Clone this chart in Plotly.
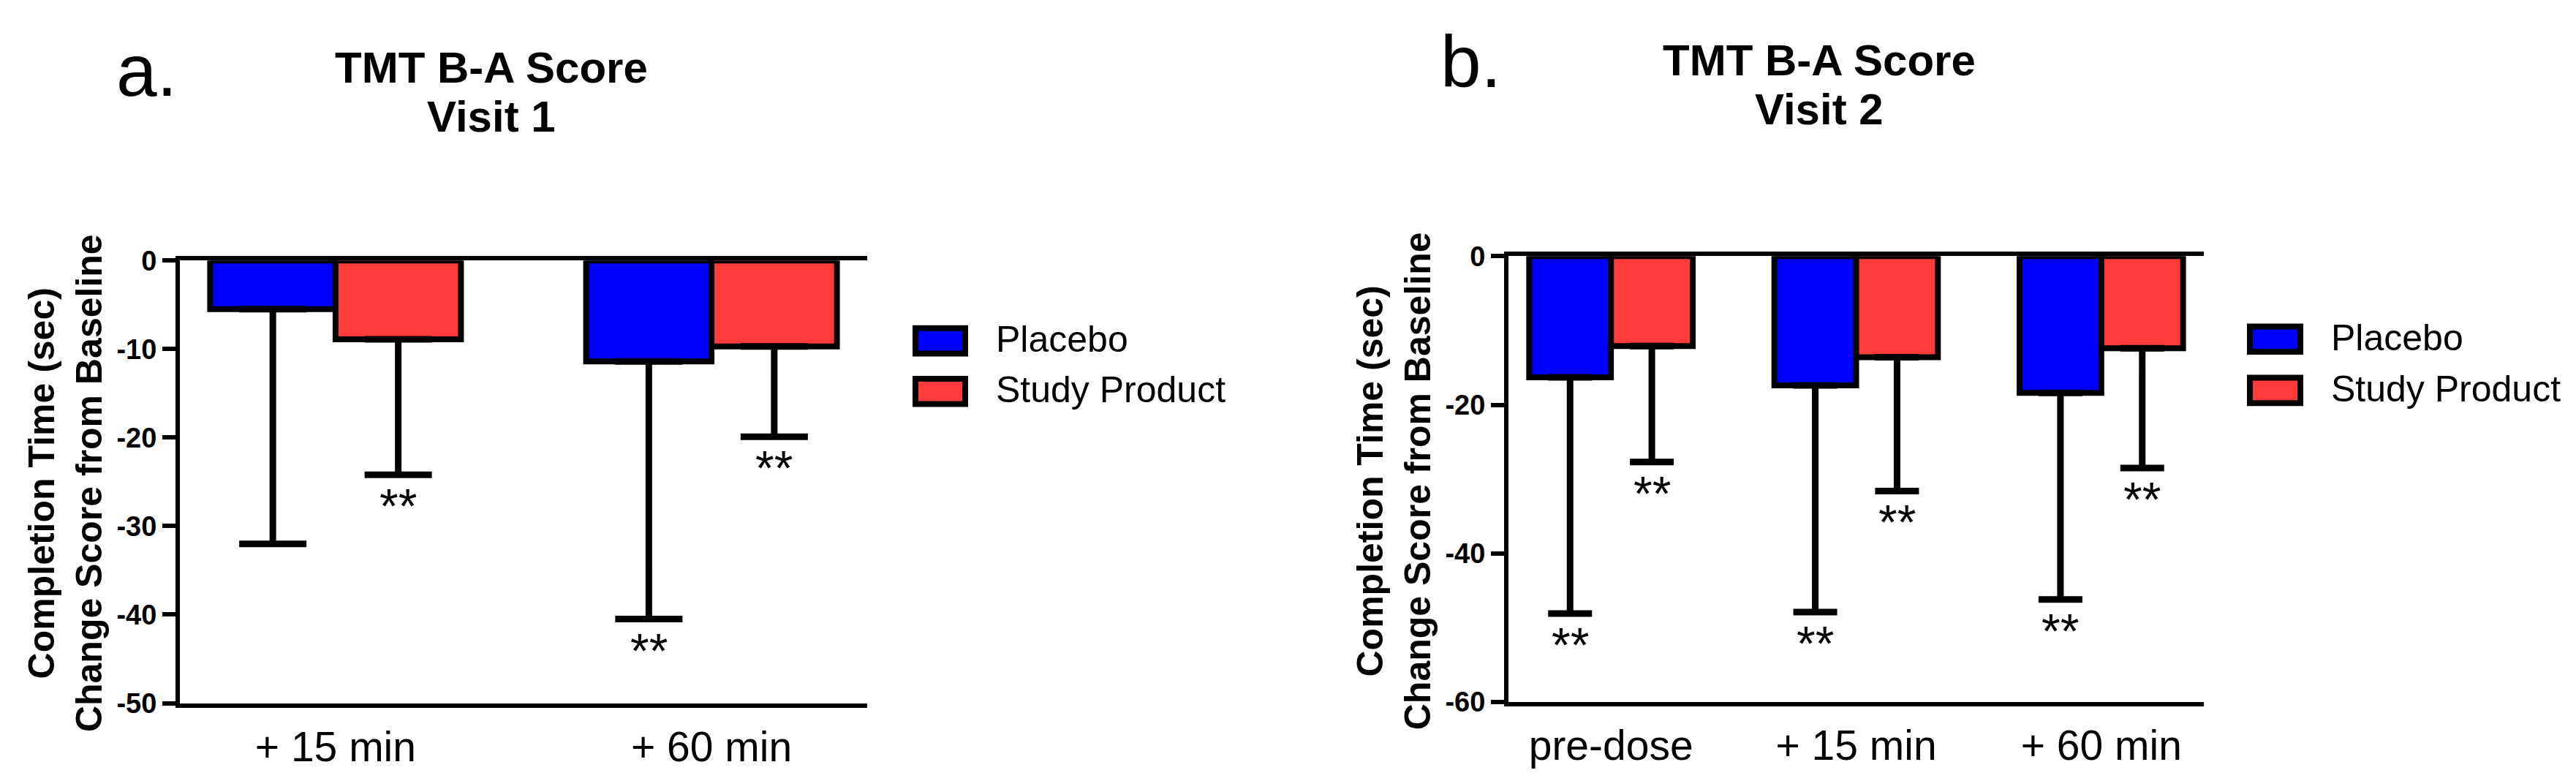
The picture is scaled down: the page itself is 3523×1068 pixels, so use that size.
import plotly.graph_objects as go

W, H = 3523, 1068
FONT = "Arial, Liberation Sans, sans-serif"

# ---------------- data ----------------
series_names = ["Placebo", "Study Product"]
series_colors = ["#0000FF", "#FF3B3B"]

cats_a = ["+ 15 min", "+ 60 min"]
placebo_a = [-5.5, -11.4]
placebo_a_sd = [26.5, 29.1]
study_a = [-8.9, -9.7]
study_a_sd = [15.3, 10.2]
sig_placebo_a = ["", "**"]
sig_study_a = ["**", "**"]

cats_b = ["pre-dose", "+ 15 min", "+ 60 min"]
placebo_b = [-16.3, -17.4, -18.4]
placebo_b_sd = [31.8, 30.5, 27.8]
study_b = [-12.1, -13.6, -12.4]
study_b_sd = [15.6, 18.0, 16.1]
sig_placebo_b = ["**", "**", "**"]
sig_study_b = ["**", "**", "**"]

yticks_a = [0, -10, -20, -30, -40, -50]
yticklabels_a = ["0", "-10", "-20", "-30", "-40", "-50"]
yticks_b = [0, -20, -40, -60]
yticklabels_b = ["0", "-20", "-40", "-60"]

title_a = ["TMT B-A Score", "Visit 1"]
title_b = ["TMT B-A Score", "Visit 2"]
ytitle = "Completion Time (sec)<br>Change Score from Baseline"

BARGAP = 0.333


def px(x):
    return x / W


def py(y):
    return 1 - y / H


fig = go.Figure()

panels = [
    dict(xa="x", ya="y", cats=cats_a,
         vals=[placebo_a, study_a], sds=[placebo_a_sd, study_a_sd],
         sigs=[sig_placebo_a, sig_study_a], err_w=46),
    dict(xa="x2", ya="y2", cats=cats_b,
         vals=[placebo_b, study_b], sds=[placebo_b_sd, study_b_sd],
         sigs=[sig_placebo_b, sig_study_b], err_w=30),
]

annotations = []
bar_w = (1 - BARGAP) / 2
for p in panels:
    for k in range(2):
        fig.add_trace(go.Bar(
            x=p["cats"], y=p["vals"][k], name=series_names[k],
            xaxis=p["xa"], yaxis=p["ya"], showlegend=False,
            marker=dict(color=series_colors[k], line=dict(color="black", width=8)),
            error_y=dict(type="data", symmetric=False,
                         array=[0] * len(p["vals"][k]), arrayminus=p["sds"][k],
                         color="black", thickness=9, width=p["err_w"]),
        ))
        offset = (k - 0.5) * bar_w
        for i, (v, s, sig) in enumerate(zip(p["vals"][k], p["sds"][k], p["sigs"][k])):
            if sig:
                annotations.append(dict(
                    x=i + offset, y=v - s, xref=p["xa"], yref=p["ya"],
                    text=sig, showarrow=False, yanchor="top", yshift=-4,
                    font=dict(family=FONT, size=66, color="black")))

axis_common = dict(showline=True, linecolor="black", linewidth=6,
                   showgrid=False, zeroline=False, fixedrange=True)

fig.update_layout(
    width=W, height=H, autosize=False,
    margin=dict(l=0, r=0, t=0, b=0),
    paper_bgcolor="white", plot_bgcolor="white",
    barmode="group", bargap=BARGAP, bargroupgap=0,
    font=dict(family=FONT, color="black"),
    xaxis=dict(domain=[px(238), px(1178)], anchor="y", range=[-0.414, 1.414],
               mirror=True, ticks="", ticklabelstandoff=5,
               tickfont=dict(family=FONT, size=57), **axis_common),
    yaxis=dict(domain=[py(970.7), py(340.7)], anchor="x", range=[-50, 0],
               tickvals=yticks_a, ticktext=yticklabels_a,
               ticks="outside", ticklen=18, tickwidth=6, tickcolor="black",
               tickfont=dict(family=FONT, size=38, weight="bold"), **axis_common),
    xaxis2=dict(domain=[px(2055), px(3006)], anchor="y2", range=[-0.418, 2.418],
                mirror=True, ticks="", ticklabelstandoff=5,
                tickfont=dict(family=FONT, size=57), **axis_common),
    yaxis2=dict(domain=[py(969), py(334.5)], anchor="x2", range=[-60, 0],
                tickvals=yticks_b, ticktext=yticklabels_b,
                ticks="outside", ticklen=18, tickwidth=6, tickcolor="black",
                tickfont=dict(family=FONT, size=38, weight="bold"), **axis_common),
)

# titles, panel letters, y-axis titles
for (cx, y1, y2, t, letter, lx, ly, tx, tyc) in [
    (664, 66, 136, title_a, "a.", 192, 70, 81, 658),
    (2480, 56, 125, title_b, "b.", 2003, 57, 1898, 655),
]:
    annotations.append(dict(x=px(cx), y=py(y1), xref="paper", yref="paper",
                            text="<b>%s</b>" % t[0], showarrow=False,
                            xanchor="center", yanchor="middle",
                            font=dict(family=FONT, size=60)))
    annotations.append(dict(x=px(cx), y=py(y2), xref="paper", yref="paper",
                            text="<b>%s</b>" % t[1], showarrow=False,
                            xanchor="center", yanchor="middle",
                            font=dict(family=FONT, size=60)))
    annotations.append(dict(x=px(lx), y=py(ly), xref="paper", yref="paper",
                            text=letter, showarrow=False,
                            xanchor="center", yanchor="middle",
                            font=dict(family=FONT, size=100)))
    annotations.append(dict(x=px(tx), y=py(tyc), xref="paper", yref="paper",
                            text="<b>%s</b>" % ytitle, showarrow=False, textangle=-90,
                            xanchor="center", yanchor="middle",
                            font=dict(family=FONT, size=50)))

# legends (drawn as boxes + text)
shapes = []
for (sx0, sx1, tx, ys) in [(1240, 1316, 1352, [455, 527]),
                           (3065, 3142, 3178, [452.5, 525.5])]:
    for k in range(2):
        yc = ys[k]
        shapes.append(dict(type="rect", xref="paper", yref="paper",
                           x0=px(sx0 + 4), x1=px(sx1 - 4),
                           y0=py(yc + 18), y1=py(yc - 18),
                           fillcolor=series_colors[k],
                           line=dict(color="black", width=8)))
        annotations.append(dict(x=px(tx), y=py(yc - 2), xref="paper", yref="paper",
                                text=series_names[k], showarrow=False,
                                xanchor="left", yanchor="middle",
                                font=dict(family=FONT, size=50)))

fig.update_layout(annotations=annotations, shapes=shapes)

fig.write_html("out.html")
